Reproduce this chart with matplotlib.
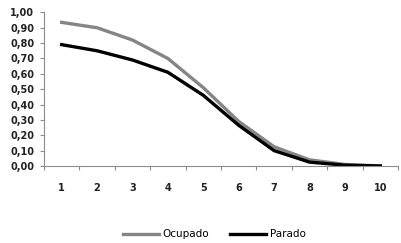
import numpy as np
import matplotlib.pyplot as plt
from matplotlib.ticker import FuncFormatter

categorias = ["1", "2", "3", "4", "5", "6", "7", "8", "9", "10"]
ocupado = [0.935, 0.90, 0.82, 0.70, 0.51, 0.29, 0.125, 0.04, 0.01, 0.00]
parado = [0.79, 0.75, 0.69, 0.61, 0.46, 0.265, 0.10, 0.025, 0.005, 0.00]

fig = plt.figure(figsize=(4.01, 2.43), dpi=100)
ax = fig.add_axes([0.1097, 0.317, 0.8828, 0.632])

x = np.arange(len(categorias))
ax.plot(x, ocupado, color="#858585", lw=2.4, label="Ocupado")
ax.plot(x, parado, color="#000000", lw=2.4, label="Parado")

ax.set_ylim(0, 1.0)
ax.set_yticks(np.arange(0, 1.01, 0.1))
ax.yaxis.set_major_formatter(FuncFormatter(lambda v, p: f"{v:.2f}".replace(".", ",")))
ax.set_xlim(-0.5, 9.12)
ax.set_xticks(np.arange(-0.5, 9.6, 1.0))
ax.set_xticklabels([])
ax.set_xticks(x, minor=True)
ax.set_xticklabels(categorias, minor=True)

for s in ["top", "right"]:
    ax.spines[s].set_visible(False)
for s in ["left", "bottom"]:
    ax.spines[s].set_color("#8c8c8c")
ax.tick_params(axis="y", which="major", length=3, color="#8c8c8c", labelsize=7, pad=4)
ax.tick_params(axis="x", which="major", length=3, color="#8c8c8c")
ax.tick_params(axis="x", which="minor", length=0, labelsize=7, pad=12)
for lab in ax.get_yticklabels() + ax.get_xticklabels(minor=True):
    lab.set_fontweight("bold")
    lab.set_color("#222222")

fig.legend(loc="center", bbox_to_anchor=(0.534, 0.035), ncol=2, frameon=False,
           fontsize=7.5, handlelength=3.5, columnspacing=2.0, handletextpad=0.3)

fig.savefig("out.png", dpi=100)
